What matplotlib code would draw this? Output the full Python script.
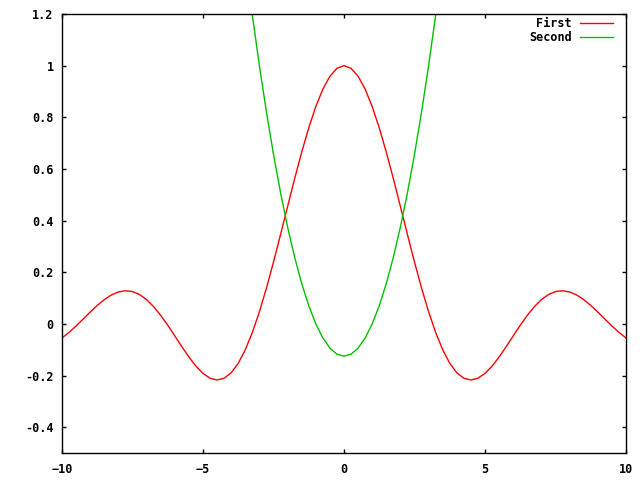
import matplotlib
matplotlib.use('Agg')
import matplotlib.pyplot as plt

x_half = [0.0, 0.25, 0.5, 0.75, 1.0, 1.25, 1.5, 1.75, 2.0, 2.25, 2.5, 2.75,
          3.0, 3.25, 3.5, 3.75, 4.0, 4.25, 4.5, 4.75, 5.0, 5.25, 5.5, 5.75,
          6.0, 6.25, 6.5, 6.75, 7.0, 7.25, 7.5, 7.75, 8.0, 8.25, 8.5, 8.75,
          9.0, 9.25, 9.5, 9.75, 10.0]
first_half = [1.0, 0.98962, 0.95885, 0.90885, 0.84147, 0.75919, 0.66500,
              0.56228, 0.45465, 0.34581, 0.23939, 0.13879, 0.04704, -0.03329,
              -0.10022, -0.15242, -0.18920, -0.21059, -0.21723, -0.21038,
              -0.19178, -0.16361, -0.12828, -0.08840, -0.04657, -0.00531,
              0.03310, 0.06667, 0.09386, 0.11353, 0.12507, 0.12834, 0.12367,
              0.11183, 0.09394, 0.07140, 0.04579, 0.01880, -0.00791,
              -0.03277, -0.05440]
x2_half = [0.0, 0.25, 0.5, 0.75, 1.0, 1.25, 1.5, 1.75, 2.0, 2.25, 2.5, 2.75,
           3.0, 3.25, 3.5]
second_half = [-0.125, -0.11719, -0.09375, -0.05469, 0.0, 0.07031, 0.15625,
               0.25781, 0.375, 0.50781, 0.65625, 0.82031, 1.0, 1.19531, 1.40625]

x1 = [-v for v in x_half[:0:-1]] + x_half
y1 = first_half[:0:-1] + first_half
x2 = [-v for v in x2_half[:0:-1]] + x2_half
y2 = second_half[:0:-1] + second_half

xticks = [-10, -5, 0, 5, 10]
yticks = [-0.4, -0.2, 0, 0.2, 0.4, 0.6, 0.8, 1, 1.2]
ylabels = ['-0.4', '-0.2', '0', '0.2', '0.4', '0.6', '0.8', '1', '1.2']

plt.rcParams['font.family'] = 'DejaVu Sans Mono'
plt.rcParams['font.weight'] = 'bold'
plt.rcParams['font.size'] = 8

fig = plt.figure(figsize=(6.4, 4.8), dpi=100)
ax = fig.add_axes([62 / 640, 27 / 480, 564 / 640, 439 / 480])
ax.plot(x1, y1, color='#ff0000', lw=1, label='First')
ax.plot(x2, y2, color='#00c000', lw=1, label='Second')
ax.set_xlim(-10, 10)
ax.set_ylim(-0.5, 1.2)
ax.set_xticks(xticks)
ax.set_yticks(yticks)
ax.set_yticklabels(ylabels)
ax.tick_params(direction='in', length=3, width=1, top=True, right=True,
               labelsize=8.5)
ax.tick_params(axis='x', pad=7)
ax.tick_params(axis='y', pad=6)
for s in ax.spines.values():
    s.set_linewidth(1)
ax.legend(loc='upper right', frameon=False, markerfirst=False,
          handlelength=2.8, handletextpad=0.7, labelspacing=0.1,
          borderaxespad=0, borderpad=0,
          bbox_to_anchor=(613 / 640, 1 - 17 / 480),
          bbox_transform=fig.transFigure,
          prop={'family': 'DejaVu Sans Mono', 'weight': 'bold', 'size': 8.5})
fig.savefig('out.png', dpi=100)
